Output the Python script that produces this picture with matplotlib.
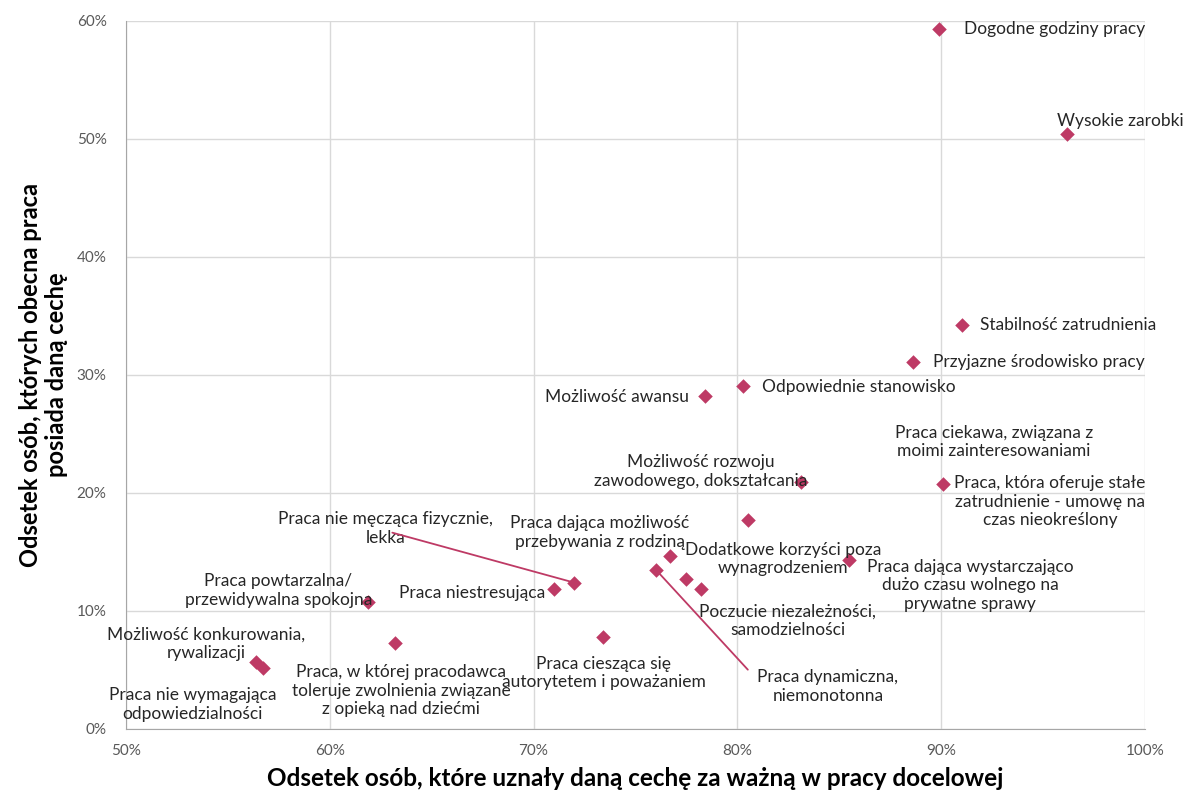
import matplotlib
matplotlib.use("Agg")
import matplotlib.pyplot as plt
from matplotlib.ticker import FuncFormatter

# dane: odsetek "ważne w pracy docelowej" (x) i "obecna praca posiada" (y), w %
labels = [
    "Dogodne godziny pracy",
    "Wysokie zarobki",
    "Stabilność zatrudnienia",
    "Przyjazne środowisko pracy",
    "Odpowiednie stanowisko",
    "Możliwość awansu",
    "Możliwość rozwoju\nzawodowego, dokształcania",
    "Praca ciekawa, związana z\nmoimi zainteresowaniami",
    "Praca, która oferuje stałe\nzatrudnienie - umowę na\nczas nieokreślony",
    "Praca nie męcząca fizycznie,\nlekka",
    "Praca dająca możliwość\nprzebywania z rodziną",
    "Dodatkowe korzyści poza\nwynagrodzeniem",
    "Poczucie niezależności,\nsamodzielności",
    "Praca dająca wystarczająco\ndużo czasu wolnego na\nprywatne sprawy",
    "Praca dynamiczna,\nniemonotonna",
    "Praca niestresująca",
    "Praca powtarzalna/\nprzewidywalna spokojna",
    "Praca ciesząca się\nautorytetem i poważaniem",
    "Praca, w której pracodawca\ntoleruje zwolnienia związane\nz opieką nad dziećmi",
    "Możliwość konkurowania,\nrywalizacji",
    "Praca nie wymagająca\nodpowiedzialności",
]
important = [89.9, 96.2, 91.0, 88.6, 80.3, 78.4, 83.1, 80.5, 90.1, 72.0, 76.7,
             77.5, 78.2, 85.5, 76.0, 71.0, 61.9, 73.4, 63.2, 56.4, 56.7]
current = [59.3, 50.4, 34.2, 31.1, 29.1, 28.2, 20.9, 17.7, 20.8, 12.4, 14.7,
           12.7, 11.9, 14.3, 13.5, 11.9, 10.8, 7.8, 7.3, 5.7, 5.2]

# przesunięcia etykiet (piksele) i wyrównanie
offsets = [(25, 0), (-10, 13), (18, 0), (20, 0), (19, -1), (-16, -1),
           (-100, 11), (147, 78), (107, -18), (-189, 54), (-70, 23),
           (97, 20), (87, -32), (121, -25), (172, -117), (-9, -4),
           (-90, 11), (1, -36), (6, -48), (-50, 18), (-70, -37)]
aligns = ["left", "left", "left", "left", "left", "right",
          "center", "left", "center", "center", "center",
          "center", "center", "center", "center", "right",
          "center", "center", "center", "center", "center"]
# linie odniesienia: indeks punktu -> koniec linii (piksele)
leaders = {9: (-182, 50), 14: (92, -100)}

color = "#BE3A65"
font = ["Lato", "DejaVu Sans"]
plt.rcParams["font.family"] = font

fig = plt.figure(figsize=(11.84, 7.98), dpi=100)
ax = fig.add_axes([0.1064, 0.0865, 0.8606, 0.8872])

ax.scatter(important, current, marker="D", s=55, color=color, zorder=3,
           linewidths=0)

for i, txt in enumerate(labels):
    dx, dy = offsets[i]
    ax.annotate(txt, (important[i], current[i]), xytext=(dx, dy),
                textcoords="offset pixels", ha=aligns[i], va="center",
                multialignment="center", fontsize=12.5, color="#262626",
                linespacing=1.2)
for i, (dx, dy) in leaders.items():
    ax.annotate("", (important[i], current[i]), xytext=(dx, dy),
                textcoords="offset pixels",
                arrowprops=dict(arrowstyle="-", color=color, lw=1.3,
                                shrinkA=0, shrinkB=0))

ax.set_xlim(50, 100)
ax.set_ylim(0, 60)
ax.set_xticks(range(50, 101, 10))
ax.set_yticks(range(0, 61, 10))
pct = FuncFormatter(lambda v, p: f"{v:.0f}%")
ax.xaxis.set_major_formatter(pct)
ax.yaxis.set_major_formatter(pct)
ax.grid(True, color="#D9D9D9", lw=1)
ax.set_axisbelow(True)
for s in ["top", "right"]:
    ax.spines[s].set_visible(False)
for s in ["left", "bottom"]:
    ax.spines[s].set_color("#A6A6A6")
ax.tick_params(length=0, labelsize=11, colors="#595959", pad=11)
ax.tick_params(axis="y", pad=14)

ax.set_xlabel("Odsetek osób, które uznały daną cechę za ważną w pracy docelowej",
              fontsize=17.5, fontweight="bold", color="black", labelpad=6)
ax.set_ylabel("Odsetek osób, których obecna praca\nposiada daną cechę",
              fontsize=17, fontweight="bold", color="black", labelpad=6,
              linespacing=1.15)

fig.savefig("out.png", dpi=100)
